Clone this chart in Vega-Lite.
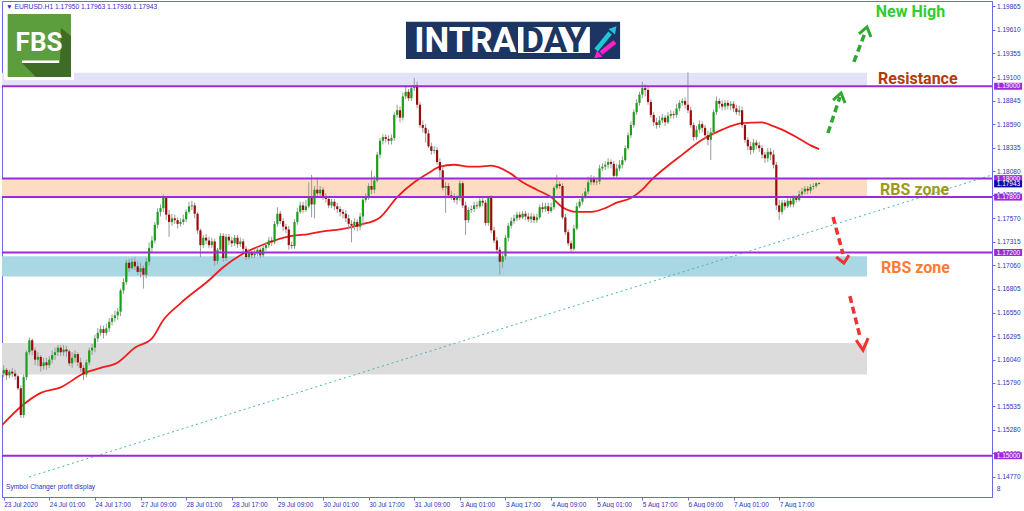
{
"$schema":"https://vega.github.io/schema/vega-lite/v6.json",
"width":990,"height":496,
"padding":{"left":1,"top":1,"right":0,"bottom":0},
"background":"white",
"config":{"font":"Liberation Sans","view":{"stroke":"#6a6ae0","strokeWidth":1},"axis":{"grid":false,"labelFontSize":6.5,"labelColor":"#3030c0","tickColor":"#6a6ae0","domainColor":"#6a6ae0","tickSize":3,"labelOverlap":false,"labelBound":false,"labelFlush":false,"labelSeparation":0}},
"resolve":{"scale":{"color":"independent"}},
"datasets":{
"zones":[{"zone":"lav","x1":-2,"x2":302.8,"p1":1.19,"p2":1.19145},{"zone":"peach","x1":-2,"x2":302.8,"p1":1.178,"p2":1.18},{"zone":"blue","x1":-2,"x2":302.8,"p1":1.1694,"p2":1.1716},{"zone":"gray","x1":-2,"x2":302.8,"p1":1.1588,"p2":1.1622}],
"trend":[{"i":8.87,"p":1.1477},{"i":346.7,"p":1.1804}],
"ma":[{"i":-0.6,"p":1.1533},{"i":6,"p":1.1553},{"i":13,"p":1.1568},{"i":20,"p":1.1574},{"i":28,"p":1.1589},{"i":34,"p":1.1595},{"i":40,"p":1.1601},{"i":46,"p":1.1617},{"i":52,"p":1.1627},{"i":56,"p":1.1647},{"i":62,"p":1.1665},{"i":72,"p":1.169},{"i":77,"p":1.1704},{"i":83,"p":1.1717},{"i":89,"p":1.1726},{"i":95,"p":1.1733},{"i":101,"p":1.1738},{"i":107,"p":1.174},{"i":112,"p":1.1743},{"i":118,"p":1.1745},{"i":125,"p":1.175},{"i":132,"p":1.1758},{"i":138,"p":1.178},{"i":144,"p":1.1796},{"i":149,"p":1.1806},{"i":153,"p":1.1813},{"i":158,"p":1.1815},{"i":163,"p":1.1813},{"i":167,"p":1.1813},{"i":171,"p":1.1814},{"i":177,"p":1.1807},{"i":182,"p":1.1796},{"i":187,"p":1.1788},{"i":192,"p":1.178},{"i":196,"p":1.1769},{"i":201,"p":1.1764},{"i":206,"p":1.1764},{"i":211,"p":1.1768},{"i":215,"p":1.1774},{"i":220,"p":1.1779},{"i":224,"p":1.1788},{"i":227,"p":1.1798},{"i":231,"p":1.1809},{"i":238,"p":1.1826},{"i":245,"p":1.1842},{"i":252,"p":1.1853},{"i":259,"p":1.186},{"i":266,"p":1.1861},{"i":269,"p":1.1858},{"i":273,"p":1.1853},{"i":278,"p":1.1845},{"i":283,"p":1.1836},{"i":286,"p":1.1832}],
"candles":[
{"i":0,"o":1.1589,"h":1.1598,"l":1.1585,"c":1.1593},{"i":1,"o":1.1593,"h":1.1595,"l":1.1582,"c":1.1587},{"i":2,"o":1.1587,"h":1.1593,"l":1.1584,"c":1.1591},{"i":3,"o":1.1591,"h":1.1595,"l":1.1585,"c":1.1589},{"i":4,"o":1.1589,"h":1.1593,"l":1.1582,"c":1.1586},{"i":5,"o":1.1586,"h":1.1588,"l":1.1571,"c":1.1573},{"i":6,"o":1.1573,"h":1.1576,"l":1.1541,"c":1.1544},{"i":7,"o":1.1544,"h":1.1588,"l":1.1541,"c":1.1585},{"i":8,"o":1.1585,"h":1.1614,"l":1.1582,"c":1.1612},{"i":9,"o":1.1612,"h":1.1628,"l":1.1609,"c":1.1625},
{"i":10,"o":1.1625,"h":1.1627,"l":1.1609,"c":1.1614},{"i":11,"o":1.1614,"h":1.1617,"l":1.1598,"c":1.1604},{"i":12,"o":1.1604,"h":1.1612,"l":1.1597,"c":1.1607},{"i":13,"o":1.1607,"h":1.1609,"l":1.1591,"c":1.1597},{"i":14,"o":1.1597,"h":1.1606,"l":1.1593,"c":1.1601},{"i":15,"o":1.1601,"h":1.1606,"l":1.1593,"c":1.1598},{"i":16,"o":1.1598,"h":1.1608,"l":1.1595,"c":1.1604},{"i":17,"o":1.1604,"h":1.1614,"l":1.16,"c":1.1609},{"i":18,"o":1.1609,"h":1.1617,"l":1.1604,"c":1.1612},{"i":19,"o":1.1612,"h":1.162,"l":1.1608,"c":1.1617},
{"i":20,"o":1.1617,"h":1.162,"l":1.1608,"c":1.1612},{"i":21,"o":1.1612,"h":1.162,"l":1.1608,"c":1.1615},{"i":22,"o":1.1615,"h":1.1619,"l":1.1607,"c":1.1613},{"i":23,"o":1.1613,"h":1.1615,"l":1.1597,"c":1.16},{"i":24,"o":1.16,"h":1.1612,"l":1.1595,"c":1.1606},{"i":25,"o":1.1606,"h":1.1614,"l":1.1601,"c":1.161},{"i":26,"o":1.161,"h":1.1612,"l":1.1597,"c":1.1601},{"i":27,"o":1.1601,"h":1.1606,"l":1.1591,"c":1.1595},{"i":28,"o":1.1595,"h":1.1598,"l":1.1582,"c":1.1588},{"i":29,"o":1.1588,"h":1.1604,"l":1.1585,"c":1.1601},
{"i":30,"o":1.1601,"h":1.1617,"l":1.1598,"c":1.1614},{"i":31,"o":1.1614,"h":1.1621,"l":1.1609,"c":1.1617},{"i":32,"o":1.1617,"h":1.1631,"l":1.1612,"c":1.1627},{"i":33,"o":1.1627,"h":1.1638,"l":1.1623,"c":1.1633},{"i":34,"o":1.1633,"h":1.1641,"l":1.163,"c":1.1637},{"i":35,"o":1.1637,"h":1.1641,"l":1.1627,"c":1.1633},{"i":36,"o":1.1633,"h":1.1643,"l":1.163,"c":1.1638},{"i":37,"o":1.1638,"h":1.1649,"l":1.1634,"c":1.1645},{"i":38,"o":1.1645,"h":1.1653,"l":1.1641,"c":1.1649},{"i":39,"o":1.1649,"h":1.1657,"l":1.1645,"c":1.1652},
{"i":40,"o":1.1652,"h":1.166,"l":1.1647,"c":1.1656},{"i":41,"o":1.1656,"h":1.1681,"l":1.1651,"c":1.1679},{"i":42,"o":1.1679,"h":1.1692,"l":1.1675,"c":1.1688},{"i":43,"o":1.1688,"h":1.1712,"l":1.1685,"c":1.1709},{"i":44,"o":1.1709,"h":1.1713,"l":1.1699,"c":1.1703},{"i":45,"o":1.1703,"h":1.1714,"l":1.1701,"c":1.171},{"i":46,"o":1.171,"h":1.1715,"l":1.1701,"c":1.1705},{"i":47,"o":1.1705,"h":1.171,"l":1.1696,"c":1.1699},{"i":48,"o":1.1699,"h":1.1709,"l":1.1693,"c":1.1703},{"i":49,"o":1.1703,"h":1.1706,"l":1.1681,"c":1.1696},
{"i":50,"o":1.1696,"h":1.1714,"l":1.1692,"c":1.171},{"i":51,"o":1.171,"h":1.1731,"l":1.1706,"c":1.1725},{"i":52,"o":1.1725,"h":1.1738,"l":1.172,"c":1.1733},{"i":53,"o":1.1733,"h":1.1753,"l":1.173,"c":1.175},{"i":54,"o":1.175,"h":1.1768,"l":1.1746,"c":1.1764},{"i":55,"o":1.1764,"h":1.1772,"l":1.1759,"c":1.1768},{"i":56,"o":1.1768,"h":1.1783,"l":1.1764,"c":1.1779},{"i":57,"o":1.1779,"h":1.1781,"l":1.1755,"c":1.1761},{"i":58,"o":1.1761,"h":1.1766,"l":1.1737,"c":1.1753},{"i":59,"o":1.1753,"h":1.1762,"l":1.1749,"c":1.1757},
{"i":60,"o":1.1757,"h":1.1761,"l":1.1751,"c":1.1755},{"i":61,"o":1.1755,"h":1.1758,"l":1.1746,"c":1.1751},{"i":62,"o":1.1751,"h":1.1757,"l":1.1748,"c":1.1753},{"i":63,"o":1.1753,"h":1.1761,"l":1.175,"c":1.1756},{"i":64,"o":1.1756,"h":1.1767,"l":1.1753,"c":1.1764},{"i":65,"o":1.1764,"h":1.1775,"l":1.1762,"c":1.177},{"i":66,"o":1.177,"h":1.1776,"l":1.1766,"c":1.1771},{"i":67,"o":1.1771,"h":1.1774,"l":1.1757,"c":1.1762},{"i":68,"o":1.1762,"h":1.1764,"l":1.174,"c":1.1744},{"i":69,"o":1.1744,"h":1.1746,"l":1.1715,"c":1.1728},
{"i":70,"o":1.1728,"h":1.1739,"l":1.1725,"c":1.1736},{"i":71,"o":1.1736,"h":1.174,"l":1.1729,"c":1.1733},{"i":72,"o":1.1733,"h":1.1737,"l":1.1725,"c":1.1728},{"i":73,"o":1.1728,"h":1.1736,"l":1.1725,"c":1.1732},{"i":74,"o":1.1732,"h":1.1735,"l":1.1706,"c":1.1711},{"i":75,"o":1.1711,"h":1.1725,"l":1.1707,"c":1.1723},{"i":76,"o":1.1723,"h":1.1741,"l":1.1719,"c":1.1738},{"i":77,"o":1.1738,"h":1.1741,"l":1.171,"c":1.1714},{"i":78,"o":1.1714,"h":1.174,"l":1.1711,"c":1.1737},{"i":79,"o":1.1737,"h":1.174,"l":1.1728,"c":1.1733},
{"i":80,"o":1.1733,"h":1.1737,"l":1.1726,"c":1.173},{"i":81,"o":1.173,"h":1.1739,"l":1.1727,"c":1.1736},{"i":82,"o":1.1736,"h":1.1739,"l":1.1725,"c":1.1729},{"i":83,"o":1.1729,"h":1.1736,"l":1.1726,"c":1.1732},{"i":84,"o":1.1732,"h":1.1735,"l":1.172,"c":1.1724},{"i":85,"o":1.1724,"h":1.1727,"l":1.1712,"c":1.1715},{"i":86,"o":1.1715,"h":1.1724,"l":1.1713,"c":1.172},{"i":87,"o":1.172,"h":1.1723,"l":1.1714,"c":1.1717},{"i":88,"o":1.1717,"h":1.1723,"l":1.1714,"c":1.1719},{"i":89,"o":1.1719,"h":1.1726,"l":1.1716,"c":1.1723},
{"i":90,"o":1.1723,"h":1.1725,"l":1.1714,"c":1.1717},{"i":91,"o":1.1717,"h":1.1728,"l":1.1715,"c":1.1725},{"i":92,"o":1.1725,"h":1.1731,"l":1.1722,"c":1.1728},{"i":93,"o":1.1728,"h":1.1737,"l":1.1725,"c":1.1733},{"i":94,"o":1.1733,"h":1.1737,"l":1.1727,"c":1.1731},{"i":95,"o":1.1731,"h":1.1754,"l":1.1729,"c":1.1751},{"i":96,"o":1.1751,"h":1.1769,"l":1.1748,"c":1.1762},{"i":97,"o":1.1762,"h":1.1765,"l":1.1751,"c":1.1754},{"i":98,"o":1.1754,"h":1.1757,"l":1.1743,"c":1.1748},{"i":99,"o":1.1748,"h":1.1751,"l":1.1741,"c":1.1745},
{"i":100,"o":1.1745,"h":1.1749,"l":1.1723,"c":1.1728},{"i":101,"o":1.1728,"h":1.1732,"l":1.1724,"c":1.1727},{"i":102,"o":1.1727,"h":1.1756,"l":1.1724,"c":1.1753},{"i":103,"o":1.1753,"h":1.1768,"l":1.175,"c":1.1764},{"i":104,"o":1.1764,"h":1.1775,"l":1.1762,"c":1.1771},{"i":105,"o":1.1771,"h":1.1775,"l":1.1763,"c":1.1766},{"i":106,"o":1.1766,"h":1.1777,"l":1.1764,"c":1.177},{"i":107,"o":1.177,"h":1.1796,"l":1.1768,"c":1.1781},{"i":108,"o":1.1781,"h":1.1804,"l":1.1758,"c":1.1772},{"i":109,"o":1.1772,"h":1.1792,"l":1.1757,"c":1.1788},
{"i":110,"o":1.1788,"h":1.1801,"l":1.1781,"c":1.1784},{"i":111,"o":1.1784,"h":1.1792,"l":1.178,"c":1.1788},{"i":112,"o":1.1788,"h":1.1791,"l":1.1777,"c":1.178},{"i":113,"o":1.178,"h":1.1784,"l":1.1774,"c":1.1778},{"i":114,"o":1.1778,"h":1.1781,"l":1.1768,"c":1.1771},{"i":115,"o":1.1771,"h":1.1778,"l":1.1768,"c":1.1775},{"i":116,"o":1.1775,"h":1.1778,"l":1.1766,"c":1.177},{"i":117,"o":1.177,"h":1.1774,"l":1.1763,"c":1.1767},{"i":118,"o":1.1767,"h":1.177,"l":1.1759,"c":1.1764},{"i":119,"o":1.1764,"h":1.1767,"l":1.1757,"c":1.1762},
{"i":120,"o":1.1762,"h":1.1766,"l":1.1753,"c":1.1757},{"i":121,"o":1.1757,"h":1.1761,"l":1.1745,"c":1.1751},{"i":122,"o":1.1751,"h":1.1755,"l":1.1731,"c":1.1749},{"i":123,"o":1.1749,"h":1.1757,"l":1.1744,"c":1.1753},{"i":124,"o":1.1753,"h":1.1756,"l":1.1743,"c":1.1748},{"i":125,"o":1.1748,"h":1.1763,"l":1.1744,"c":1.1759},{"i":126,"o":1.1759,"h":1.178,"l":1.1749,"c":1.1777},{"i":127,"o":1.1777,"h":1.1784,"l":1.1774,"c":1.178},{"i":128,"o":1.178,"h":1.1795,"l":1.1777,"c":1.1792},{"i":129,"o":1.1792,"h":1.1809,"l":1.1783,"c":1.1788},
{"i":130,"o":1.1788,"h":1.1803,"l":1.1784,"c":1.1798},{"i":131,"o":1.1798,"h":1.1829,"l":1.1796,"c":1.1826},{"i":132,"o":1.1826,"h":1.1844,"l":1.1822,"c":1.1841},{"i":133,"o":1.1841,"h":1.1848,"l":1.1837,"c":1.1845},{"i":134,"o":1.1845,"h":1.1848,"l":1.1839,"c":1.1843},{"i":135,"o":1.1843,"h":1.1847,"l":1.1837,"c":1.1841},{"i":136,"o":1.1841,"h":1.1848,"l":1.1837,"c":1.1844},{"i":137,"o":1.1844,"h":1.1872,"l":1.1841,"c":1.1869},{"i":138,"o":1.1869,"h":1.188,"l":1.1866,"c":1.1874},{"i":139,"o":1.1874,"h":1.1878,"l":1.1861,"c":1.1866},
{"i":140,"o":1.1866,"h":1.1893,"l":1.1863,"c":1.1889},{"i":141,"o":1.1889,"h":1.1901,"l":1.1886,"c":1.1894},{"i":142,"o":1.1894,"h":1.1897,"l":1.1884,"c":1.1887},{"i":143,"o":1.1887,"h":1.1901,"l":1.1884,"c":1.1898},{"i":144,"o":1.1898,"h":1.1909,"l":1.1895,"c":1.1901},{"i":145,"o":1.1901,"h":1.1905,"l":1.1876,"c":1.188},{"i":146,"o":1.188,"h":1.1883,"l":1.1855,"c":1.1858},{"i":147,"o":1.1858,"h":1.1863,"l":1.185,"c":1.1855},{"i":148,"o":1.1855,"h":1.1859,"l":1.1839,"c":1.1849},{"i":149,"o":1.1849,"h":1.1853,"l":1.1833,"c":1.1835},
{"i":150,"o":1.1835,"h":1.1839,"l":1.1826,"c":1.183},{"i":151,"o":1.183,"h":1.1835,"l":1.1827,"c":1.1831},{"i":152,"o":1.1831,"h":1.1834,"l":1.1815,"c":1.1818},{"i":153,"o":1.1818,"h":1.1822,"l":1.1801,"c":1.1809},{"i":154,"o":1.1809,"h":1.1813,"l":1.1787,"c":1.179},{"i":155,"o":1.179,"h":1.1796,"l":1.1763,"c":1.1792},{"i":156,"o":1.1792,"h":1.1795,"l":1.1779,"c":1.1782},{"i":157,"o":1.1782,"h":1.1787,"l":1.1777,"c":1.1781},{"i":158,"o":1.1781,"h":1.1784,"l":1.1774,"c":1.1777},{"i":159,"o":1.1777,"h":1.1782,"l":1.1772,"c":1.1779},
{"i":160,"o":1.1779,"h":1.1798,"l":1.1776,"c":1.1795},{"i":161,"o":1.1795,"h":1.1797,"l":1.1768,"c":1.1771},{"i":162,"o":1.1771,"h":1.1775,"l":1.1739,"c":1.1755},{"i":163,"o":1.1755,"h":1.1769,"l":1.1752,"c":1.1766},{"i":164,"o":1.1766,"h":1.1771,"l":1.1763,"c":1.1767},{"i":165,"o":1.1767,"h":1.1775,"l":1.1764,"c":1.1771},{"i":166,"o":1.1771,"h":1.1775,"l":1.1767,"c":1.177},{"i":167,"o":1.177,"h":1.1779,"l":1.1768,"c":1.1776},{"i":168,"o":1.1776,"h":1.1779,"l":1.177,"c":1.1774},{"i":169,"o":1.1774,"h":1.1777,"l":1.1749,"c":1.1752},
{"i":170,"o":1.1752,"h":1.1781,"l":1.1749,"c":1.1779},{"i":171,"o":1.1779,"h":1.1782,"l":1.1741,"c":1.1744},{"i":172,"o":1.1744,"h":1.1748,"l":1.173,"c":1.1733},{"i":173,"o":1.1733,"h":1.1737,"l":1.1719,"c":1.1723},{"i":174,"o":1.1723,"h":1.1726,"l":1.1696,"c":1.171},{"i":175,"o":1.171,"h":1.172,"l":1.1703,"c":1.1716},{"i":176,"o":1.1716,"h":1.1739,"l":1.1712,"c":1.1736},{"i":177,"o":1.1736,"h":1.1752,"l":1.1732,"c":1.1749},{"i":178,"o":1.1749,"h":1.1758,"l":1.1746,"c":1.1754},{"i":179,"o":1.1754,"h":1.1761,"l":1.1751,"c":1.1757},
{"i":180,"o":1.1757,"h":1.1764,"l":1.1754,"c":1.1761},{"i":181,"o":1.1761,"h":1.1764,"l":1.1755,"c":1.1758},{"i":182,"o":1.1758,"h":1.1765,"l":1.1756,"c":1.1762},{"i":183,"o":1.1762,"h":1.1765,"l":1.1755,"c":1.1759},{"i":184,"o":1.1759,"h":1.1763,"l":1.1753,"c":1.1756},{"i":185,"o":1.1756,"h":1.1763,"l":1.1752,"c":1.1759},{"i":186,"o":1.1759,"h":1.1762,"l":1.1752,"c":1.1755},{"i":187,"o":1.1755,"h":1.1762,"l":1.1752,"c":1.1758},{"i":188,"o":1.1758,"h":1.1772,"l":1.1756,"c":1.1769},{"i":189,"o":1.1769,"h":1.1774,"l":1.1763,"c":1.1767},
{"i":190,"o":1.1767,"h":1.1774,"l":1.1764,"c":1.177},{"i":191,"o":1.177,"h":1.1774,"l":1.1762,"c":1.1765},{"i":192,"o":1.1765,"h":1.1774,"l":1.1763,"c":1.1769},{"i":193,"o":1.1769,"h":1.1792,"l":1.1766,"c":1.179},{"i":194,"o":1.179,"h":1.1804,"l":1.1788,"c":1.1794},{"i":195,"o":1.1794,"h":1.1797,"l":1.1789,"c":1.1792},{"i":196,"o":1.1792,"h":1.1795,"l":1.1756,"c":1.1758},{"i":197,"o":1.1758,"h":1.1762,"l":1.1739,"c":1.1742},{"i":198,"o":1.1742,"h":1.1745,"l":1.1727,"c":1.173},{"i":199,"o":1.173,"h":1.1733,"l":1.172,"c":1.1724},
{"i":200,"o":1.1724,"h":1.175,"l":1.1722,"c":1.1746},{"i":201,"o":1.1746,"h":1.1774,"l":1.1744,"c":1.177},{"i":202,"o":1.177,"h":1.1778,"l":1.1768,"c":1.1775},{"i":203,"o":1.1775,"h":1.1784,"l":1.1772,"c":1.1781},{"i":204,"o":1.1781,"h":1.179,"l":1.1778,"c":1.1786},{"i":205,"o":1.1786,"h":1.1802,"l":1.1783,"c":1.1796},{"i":206,"o":1.1796,"h":1.1804,"l":1.1793,"c":1.18},{"i":207,"o":1.18,"h":1.1803,"l":1.1793,"c":1.1796},{"i":208,"o":1.1796,"h":1.1801,"l":1.1793,"c":1.1797},{"i":209,"o":1.1797,"h":1.1815,"l":1.1794,"c":1.1811},
{"i":210,"o":1.1811,"h":1.1817,"l":1.1808,"c":1.1813},{"i":211,"o":1.1813,"h":1.1819,"l":1.1809,"c":1.1815},{"i":212,"o":1.1815,"h":1.1822,"l":1.1811,"c":1.1818},{"i":213,"o":1.1818,"h":1.1821,"l":1.1811,"c":1.1816},{"i":214,"o":1.1816,"h":1.1819,"l":1.18,"c":1.1803},{"i":215,"o":1.1803,"h":1.1816,"l":1.1801,"c":1.1811},{"i":216,"o":1.1811,"h":1.182,"l":1.1808,"c":1.1815},{"i":217,"o":1.1815,"h":1.1824,"l":1.1811,"c":1.182},{"i":218,"o":1.182,"h":1.1836,"l":1.1818,"c":1.1833},{"i":219,"o":1.1833,"h":1.185,"l":1.1831,"c":1.1847},
{"i":220,"o":1.1847,"h":1.1862,"l":1.1844,"c":1.1858},{"i":221,"o":1.1858,"h":1.1875,"l":1.1855,"c":1.1872},{"i":222,"o":1.1872,"h":1.1886,"l":1.1869,"c":1.1882},{"i":223,"o":1.1882,"h":1.1894,"l":1.1879,"c":1.1891},{"i":224,"o":1.1891,"h":1.1905,"l":1.1887,"c":1.1898},{"i":225,"o":1.1898,"h":1.1902,"l":1.1889,"c":1.1896},{"i":226,"o":1.1896,"h":1.1899,"l":1.188,"c":1.1883},{"i":227,"o":1.1883,"h":1.1886,"l":1.1866,"c":1.1869},{"i":228,"o":1.1869,"h":1.1872,"l":1.1857,"c":1.1861},{"i":229,"o":1.1861,"h":1.1866,"l":1.1854,"c":1.1858},
{"i":230,"o":1.1858,"h":1.1868,"l":1.1855,"c":1.1863},{"i":231,"o":1.1863,"h":1.187,"l":1.186,"c":1.1866},{"i":232,"o":1.1866,"h":1.1869,"l":1.1857,"c":1.1861},{"i":233,"o":1.1861,"h":1.1872,"l":1.1859,"c":1.1868},{"i":234,"o":1.1868,"h":1.1874,"l":1.1865,"c":1.187},{"i":235,"o":1.187,"h":1.1873,"l":1.1865,"c":1.1869},{"i":236,"o":1.1869,"h":1.1881,"l":1.1866,"c":1.1876},{"i":237,"o":1.1876,"h":1.1885,"l":1.1873,"c":1.1882},{"i":238,"o":1.1882,"h":1.1887,"l":1.1879,"c":1.1884},{"i":239,"o":1.1884,"h":1.1888,"l":1.1876,"c":1.188},
{"i":240,"o":1.188,"h":1.1915,"l":1.1871,"c":1.1874},{"i":241,"o":1.1874,"h":1.1878,"l":1.1855,"c":1.1858},{"i":242,"o":1.1858,"h":1.1861,"l":1.1841,"c":1.1845},{"i":243,"o":1.1845,"h":1.1857,"l":1.1842,"c":1.1853},{"i":244,"o":1.1853,"h":1.1863,"l":1.1849,"c":1.1859},{"i":245,"o":1.1859,"h":1.1862,"l":1.185,"c":1.1855},{"i":246,"o":1.1855,"h":1.1858,"l":1.1843,"c":1.1847},{"i":247,"o":1.1847,"h":1.1852,"l":1.1836,"c":1.1842},{"i":248,"o":1.1842,"h":1.1855,"l":1.182,"c":1.185},{"i":249,"o":1.185,"h":1.1875,"l":1.1847,"c":1.1872},
{"i":250,"o":1.1872,"h":1.1889,"l":1.1869,"c":1.1884},{"i":251,"o":1.1884,"h":1.1887,"l":1.1876,"c":1.1881},{"i":252,"o":1.1881,"h":1.1885,"l":1.1874,"c":1.1878},{"i":253,"o":1.1878,"h":1.1885,"l":1.1874,"c":1.1882},{"i":254,"o":1.1882,"h":1.1885,"l":1.1875,"c":1.1879},{"i":255,"o":1.1879,"h":1.1884,"l":1.1874,"c":1.1881},{"i":256,"o":1.1881,"h":1.1884,"l":1.1872,"c":1.1876},{"i":257,"o":1.1876,"h":1.188,"l":1.1869,"c":1.1872},{"i":258,"o":1.1872,"h":1.1879,"l":1.1868,"c":1.1874},{"i":259,"o":1.1874,"h":1.1878,"l":1.1855,"c":1.1858},
{"i":260,"o":1.1858,"h":1.1861,"l":1.1839,"c":1.1842},{"i":261,"o":1.1842,"h":1.1845,"l":1.1831,"c":1.1835},{"i":262,"o":1.1835,"h":1.184,"l":1.1826,"c":1.1831},{"i":263,"o":1.1831,"h":1.1843,"l":1.1828,"c":1.1839},{"i":264,"o":1.1839,"h":1.1842,"l":1.1832,"c":1.1836},{"i":265,"o":1.1836,"h":1.184,"l":1.1829,"c":1.1833},{"i":266,"o":1.1833,"h":1.1836,"l":1.1822,"c":1.1826},{"i":267,"o":1.1826,"h":1.1829,"l":1.1817,"c":1.1822},{"i":268,"o":1.1822,"h":1.1833,"l":1.1818,"c":1.1829},{"i":269,"o":1.1829,"h":1.1833,"l":1.182,"c":1.1826},
{"i":270,"o":1.1826,"h":1.1831,"l":1.1811,"c":1.1815},{"i":271,"o":1.1815,"h":1.1818,"l":1.1766,"c":1.1771},{"i":272,"o":1.1771,"h":1.1777,"l":1.1755,"c":1.1764},{"i":273,"o":1.1764,"h":1.1777,"l":1.1761,"c":1.1774},{"i":274,"o":1.1774,"h":1.1777,"l":1.1766,"c":1.177},{"i":275,"o":1.177,"h":1.1779,"l":1.1768,"c":1.1776},{"i":276,"o":1.1776,"h":1.1779,"l":1.1769,"c":1.1772},{"i":277,"o":1.1772,"h":1.1782,"l":1.1769,"c":1.1779},{"i":278,"o":1.1779,"h":1.1782,"l":1.1774,"c":1.1777},{"i":279,"o":1.1777,"h":1.1787,"l":1.1775,"c":1.1783},
{"i":280,"o":1.1783,"h":1.179,"l":1.178,"c":1.1786},{"i":281,"o":1.1786,"h":1.1792,"l":1.1783,"c":1.1789},{"i":282,"o":1.1789,"h":1.1792,"l":1.1783,"c":1.1787},{"i":283,"o":1.1787,"h":1.1794,"l":1.1784,"c":1.1791},{"i":284,"o":1.1791,"h":1.1795,"l":1.1788,"c":1.1792},{"i":285,"o":1.1792,"h":1.1796,"l":1.179,"c":1.1795},{"i":286,"o":1.1795,"h":1.17963,"l":1.17936,"c":1.17943}
],
"levels":[{"p":1.19},{"p":1.18},{"p":1.178},{"p":1.172},{"p":1.15}],
"tags":[{"p":1.19,"t":"1.19000","k":"lvl"},{"p":1.18,"t":"1.18000","k":"lvl"},{"p":1.178,"t":"1.17800","k":"lvl"},{"p":1.172,"t":"1.17200","k":"lvl"},{"p":1.15,"t":"1.15000","k":"lvl"},{"p":1.17943,"t":"1.17943","k":"bid"}],
"shafts":[{"a":"g1","c":"g","ord":0,"i":289.1,"p":1.18494},{"a":"g1","c":"g","ord":1,"i":293.3,"p":1.18884},{"a":"g2","c":"g","ord":0,"i":298.2,"p":1.19263},{"a":"g2","c":"g","ord":1,"i":302.1,"p":1.19577},{"a":"r1","c":"r","ord":0,"i":290.9,"p":1.17584},{"a":"r1","c":"r","ord":1,"i":294.4,"p":1.17183},{"a":"r2","c":"r","ord":0,"i":296.8,"p":1.16728},{"a":"r2","c":"r","ord":1,"i":300.3,"p":1.16295}],
"heads":[{"a":"g1","c":"g","ord":0,"i":290.9,"p":1.18851},{"a":"g1","c":"g","ord":1,"i":293.7,"p":1.18927},{"a":"g1","c":"g","ord":2,"i":295.1,"p":1.18818},{"a":"g2","c":"g","ord":0,"i":300.0,"p":1.19566},{"a":"g2","c":"g","ord":1,"i":302.8,"p":1.19642},{"a":"g2","c":"g","ord":2,"i":304.2,"p":1.19533},{"a":"r1","c":"r","ord":0,"i":292.0,"p":1.17151},{"a":"r1","c":"r","ord":1,"i":294.7,"p":1.17086},{"a":"r1","c":"r","ord":2,"i":296.5,"p":1.17172},{"a":"r2","c":"r","ord":0,"i":299.0,"p":1.16252},{"a":"r2","c":"r","ord":1,"i":301.4,"p":1.16144},{"a":"r2","c":"r","ord":2,"i":303.2,"p":1.16274}],
"notes":[{"t":"New High","k":"nh","i":305.9,"p":1.19799},{"t":"Resistance","k":"res","i":306.7,"p":1.19078},{"t":"RBS zone","k":"rbs1","i":307.4,"p":1.17876},{"t":"RBS zone","k":"rbs2","i":307.7,"p":1.17032}],
"logorects":[{"part":"fbsbg","x1":0.1,"x2":24.7,"p1":1.19068,"p2":1.19804},{"part":"fbs","x1":1.4,"x2":23.6,"p1":1.191,"p2":1.19782},{"part":"intra","x1":141.1,"x2":216.2,"p1":1.19295,"p2":1.19699},{"part":"daybox","x1":180.4,"x2":205.6,"p1":1.1936,"p2":1.19642}],
"fbsshadow":[{"i":6.42,"p":1.19252,"lo":1.19252},{"i":11.33,"p":1.19252,"lo":1.191},{"i":19.75,"p":1.19252,"lo":1.191},{"i":20.1,"p":1.19631,"lo":1.191},{"i":23.6,"p":1.19544,"lo":1.191}],
"fbsline":[{"x1":6.4,"x2":19.4,"p1":1.19252,"p2":1.19279}],
"logoarrows":[{"a":"cy","ord":0,"i":207.8,"p":1.19393},{"a":"cy","ord":1,"i":212.7,"p":1.19577},{"a":"mg","ord":0,"i":214.4,"p":1.19479},{"a":"mg","ord":1,"i":209.5,"p":1.1936}],
"smalltext":[{"t":"▼ EURUSD.H1  1.17950 1.17963 1.17936 1.17943","i":0.8,"p":1.19855},{"t":"Symbol Changer profit display","i":0.8,"p":1.14657},{"t":"8","i":348.3,"p":1.14638}]
},
"layer":[
{"data":{"name":"zones"},"mark":{"type":"rect","clip":true},
 "encoding":{
  "x":{"field":"x1","type":"quantitative","scale":{"domain":[-0.596,346.65],"nice":false,"zero":false},
   "axis":{"title":null,"grid":false,"tickCount":100,"values":[0,16,32,48,64,80,96,112,128,144,160,176,192,208,224,240,256,272],
    "labelExpr":"['23 Jul 2020','24 Jul 01:00','24 Jul 17:00','27 Jul 09:00','28 Jul 01:00','28 Jul 17:00','29 Jul 09:00','30 Jul 01:00','30 Jul 17:00','31 Jul 09:00','3 Aug 01:00','3 Aug 17:00','4 Aug 09:00','5 Aug 01:00','5 Aug 17:00','6 Aug 09:00','7 Aug 01:00','7 Aug 17:00'][round(datum.value/16)]",
    "labelAlign":"left","labelBaseline":"top","labelPadding":1,"tickSize":3,"labelFontSize":6.5,"labelColor":"#3030c0","tickColor":"#6a6ae0","domainColor":"#6a6ae0","labelOverlap":false,"labelBound":false,"labelFlush":false}},
  "x2":{"field":"x2"},
  "y":{"field":"p1","type":"quantitative","scale":{"domain":[1.14553,1.19923],"nice":false,"zero":false},
   "axis":{"title":null,"orient":"right","grid":false,"tickCount":100,"values":[1.19865,1.1961,1.19355,1.191,1.18845,1.1859,1.18335,1.1808,1.17825,1.1757,1.17315,1.1706,1.16805,1.1655,1.16295,1.1604,1.1579,1.15535,1.1528,1.15025,1.1477],
    "format":".5f","labelFontSize":6.5,"labelColor":"#3030c0","tickSize":3,"labelPadding":1.5,"tickColor":"#6a6ae0","domainColor":"#6a6ae0","labelOverlap":false,"labelBound":false,"labelFlush":false}},
  "y2":{"field":"p2"},
  "color":{"field":"zone","type":"nominal","legend":null,"scale":{"domain":["lav","peach","blue","gray"],"range":["#e3e3f7","#fcdcc2","#a9d7e4","#dcdcdc"]}}}},
{"data":{"name":"trend"},"mark":{"type":"line","clip":true,"color":"#45b5b5","strokeWidth":1,"strokeDash":[2,3]},
 "encoding":{"x":{"field":"i","type":"quantitative","title":null},"y":{"field":"p","type":"quantitative","title":null}}},
{"mark":{"type":"rule","color":"#a0a0a0","strokeWidth":1},
 "encoding":{"y":{"datum":1.17943,"type":"quantitative","title":null}}},
{"data":{"name":"ma"},"mark":{"type":"line","clip":true,"color":"#ee1c1c","strokeWidth":1.8,"interpolate":"monotone"},
 "encoding":{"x":{"field":"i","type":"quantitative","title":null},"y":{"field":"p","type":"quantitative","title":null}}},
{"data":{"name":"candles"},"mark":{"type":"rule","clip":true,"color":"#9a9a9a","strokeWidth":1},
 "encoding":{"x":{"field":"i","type":"quantitative","title":null},"y":{"field":"h","type":"quantitative","title":null},"y2":{"field":"l"}}},
{"data":{"name":"candles"},"mark":{"type":"rule","clip":true,"strokeWidth":2.2},
 "encoding":{"x":{"field":"i","type":"quantitative","title":null},"y":{"field":"o","type":"quantitative","title":null},"y2":{"field":"c"},
  "color":{"condition":{"test":"datum.c >= datum.o","value":"#1a9f1a"},"value":"#9c0c0c"}}},
{"data":{"name":"levels"},"mark":{"type":"rule","color":"#9b2bd8","strokeWidth":2},
 "encoding":{"y":{"field":"p","type":"quantitative","title":null}}},
{"mark":{"type":"rule","color":"#8c8ce6","strokeWidth":2.5},
 "encoding":{"y":{"datum":1.1473,"type":"quantitative","title":null}}},
{"data":{"name":"shafts"},"mark":{"type":"line","strokeWidth":3.5,"strokeDash":[7,4]},
 "encoding":{"x":{"field":"i","type":"quantitative","title":null},"y":{"field":"p","type":"quantitative","title":null},
  "detail":{"field":"a"},"order":{"field":"ord"},
  "color":{"field":"c","type":"nominal","legend":null,"scale":{"domain":["g","r"],"range":["#2ea82e","#f03232"]}}}},
{"data":{"name":"heads"},"mark":{"type":"line","strokeWidth":3},
 "encoding":{"x":{"field":"i","type":"quantitative","title":null},"y":{"field":"p","type":"quantitative","title":null},
  "detail":{"field":"a"},"order":{"field":"ord"},
  "color":{"field":"c","type":"nominal","legend":null,"scale":{"domain":["g","r"],"range":["#2ea82e","#f03232"]}}}},
{"data":{"name":"notes"},"mark":{"type":"text","font":"Roboto","fontWeight":"bold","fontSize":16,"align":"left","baseline":"middle"},
 "encoding":{"x":{"field":"i","type":"quantitative","title":null},"y":{"field":"p","type":"quantitative","title":null},
  "text":{"field":"t"},
  "color":{"field":"k","type":"nominal","legend":null,"scale":{"domain":["nh","res","rbs1","rbs2"],"range":["#33cc33","#b23c0e","#9c9c14","#ff7a33"]}}}},
{"data":{"name":"logorects"},"mark":{"type":"rect"},
 "encoding":{"x":{"field":"x1","type":"quantitative","title":null},"x2":{"field":"x2"},
  "y":{"field":"p1","type":"quantitative","title":null},"y2":{"field":"p2"},
  "color":{"field":"part","type":"nominal","legend":null,"scale":{"domain":["fbsbg","fbs","intra","daybox"],"range":["#ffffff","#5c9d3e","#1c3563","#ffffff"]}}}},
{"data":{"name":"fbsshadow"},"mark":{"type":"area","color":"#3e6c27","opacity":1},
 "encoding":{"x":{"field":"i","type":"quantitative","title":null},"y":{"field":"p","type":"quantitative","title":null},"y2":{"field":"lo"}}},
{"data":{"name":"fbsline"},"mark":{"type":"rect","color":"#ffffff"},
 "encoding":{"x":{"field":"x1","type":"quantitative","title":null},"x2":{"field":"x2"},
  "y":{"field":"p1","type":"quantitative","title":null},"y2":{"field":"p2"}}},
{"data":{"values":[{"t":"FBS","i":12.4,"p":1.19468}]},"mark":{"type":"text","font":"Roboto","fontWeight":"bold","fontSize":26,"color":"#ffffff","align":"center","baseline":"middle"},
 "encoding":{"x":{"field":"i","type":"quantitative","title":null},"y":{"field":"p","type":"quantitative","title":null},"text":{"field":"t"}}},
{"data":{"values":[{"t":"INTRA","k":"w","i":161.9,"p":1.19495},{"t":"DAY","k":"n","i":193.0,"p":1.19495}]},"mark":{"type":"text","font":"Roboto","fontWeight":"bold","fontSize":35,"align":"center","baseline":"middle"},
 "encoding":{"x":{"field":"i","type":"quantitative","title":null},"y":{"field":"p","type":"quantitative","title":null},
  "text":{"field":"t"},
  "color":{"field":"k","type":"nominal","legend":null,"scale":{"domain":["w","n"],"range":["#ffffff","#1c3563"]}}}},
{"data":{"name":"logoarrows"},"mark":{"type":"line","strokeWidth":4.5},
 "encoding":{"x":{"field":"i","type":"quantitative","title":null},"y":{"field":"p","type":"quantitative","title":null},
  "detail":{"field":"a"},"order":{"field":"ord"},
  "color":{"field":"a","type":"nominal","legend":null,"scale":{"domain":["cy","mg"],"range":["#1ec8d8","#ff22cc"]}}}},
{"data":{"values":[{"i":214.1,"p":1.1962}]},"mark":{"type":"point","shape":"triangle-up","filled":true,"size":70,"angle":40,"color":"#1ec8d8","opacity":1},
 "encoding":{"x":{"field":"i","type":"quantitative","title":null},"y":{"field":"p","type":"quantitative","title":null}}},
{"data":{"values":[{"i":208.1,"p":1.19328}]},"mark":{"type":"point","shape":"triangle-up","filled":true,"size":70,"angle":230,"color":"#ff22cc","opacity":1},
 "encoding":{"x":{"field":"i","type":"quantitative","title":null},"y":{"field":"p","type":"quantitative","title":null}}},
{"data":{"name":"smalltext"},"mark":{"type":"text","fontSize":6.7,"color":"#3030c0","align":"left","baseline":"middle"},
 "encoding":{"x":{"field":"i","type":"quantitative","title":null},"y":{"field":"p","type":"quantitative","title":null},"text":{"field":"t"}}},
{"data":{"name":"tags"},"mark":{"type":"tick","orient":"horizontal","size":28,"thickness":7,"opacity":1},
 "encoding":{"x":{"datum":352.3,"type":"quantitative","title":null},"y":{"field":"p","type":"quantitative","title":null},
  "color":{"field":"k","type":"nominal","legend":null,"scale":{"domain":["lvl","bid"],"range":["#9b2bd8","#0a0aa8"]}}}},
{"data":{"name":"tags"},"mark":{"type":"text","fontSize":6.5,"color":"#ffffff","align":"left","baseline":"middle"},
 "encoding":{"x":{"datum":348.3,"type":"quantitative","title":null},"y":{"field":"p","type":"quantitative","title":null},"text":{"field":"t"}}}
]
}
